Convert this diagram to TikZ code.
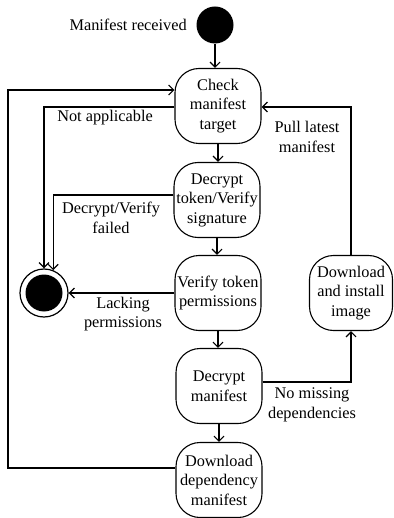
\documentclass[tikz,border=0pt]{standalone}
\usepackage{fontspec}
\setmainfont{Liberation Serif}
\usetikzlibrary{arrows.meta, positioning, calc}

\tikzset{
  state/.style={draw, line width=1.1pt, rounded corners=24pt, minimum width=86pt, minimum height=75pt, align=center, inner sep=0pt},
  flow/.style={line width=1.2pt, -{Straight Barb[length=5pt, width=10pt]}},
  lbl/.style={align=center}
}

\begin{document}
\begin{tikzpicture}[x=1pt, y=-1pt, font=\fontsize{16.3}{19.5}\selectfont]
        \useasboundingbox (0,0) rectangle (393,518);

        % Start and end points
        \node[circle, fill=black, minimum size=37pt, inner sep=0pt] (start) at (215,25) {};
        \node[left=6pt of start] (startlbl) {Manifest received};
        \node[circle, draw, line width=1.2pt, minimum size=48pt, inner sep=0pt] (final) at (44,293) {};
        \node[circle, fill=black, minimum size=37pt, inner sep=0pt] (finaldot) at (final) {};

        % States
        \node[state] (check) at (218,106) {Check\\manifest\\target};
        \node[state] (decrypt) at (217,200) {Decrypt\\token/Verify\\signature};
        \node[state] (verify) at (218,293) {Verify token\\permissions};
        \node[state] (decman) at (219,386) {Decrypt\\manifest};
        \node[state] (deps) at (219,480) {Download\\dependency\\manifest};
        \node[state, minimum width=83pt] (install) at (351,293) {Download\\and install\\image};
        \coordinate (loop) at (8,300);

        % Main flow
        \draw[flow] (start.south) -- (start.south |- check.north);
        \draw[flow] (check.south) -- (check.south |- decrypt.north);
        \draw[flow] (decrypt.south) -- (decrypt.south |- verify.north);
        \draw[flow] (verify.south) -- (verify.south |- decman.north);
        \draw[flow] (decman.south) -- (decman.south |- deps.north);

        % Failures
        \draw[flow] ([yshift=-1pt]check.west) -| (final.north);
        \draw[flow] ([yshift=5pt]decrypt.west) -| (final.68);
        \draw[flow] (verify.west) -- (final.east);

        % Loops back
        \draw[flow] ([yshift=4pt]decman.east) -| (install.south);
        \draw[flow] (install.north) |- ([yshift=-1pt]check.east);
        \draw[flow] ([yshift=12pt]deps.west) -| (loop) |- ([yshift=16pt]check.west);

        % Labels
        \node[lbl] (nalbl) at (105,118) {Not applicable};
        \node[lbl] (faillbl) at (111,218) {Decrypt/Verify\\failed};
        \node[lbl] (lacklbl) at (123,314) {Lacking\\permissions};
        \node[lbl] (nomisslbl) at (312,405) {No missing\\dependencies};
        \node[lbl] (pulllbl) at (307,137) {Pull latest\\manifest};

    \end{tikzpicture}
\end{document}
